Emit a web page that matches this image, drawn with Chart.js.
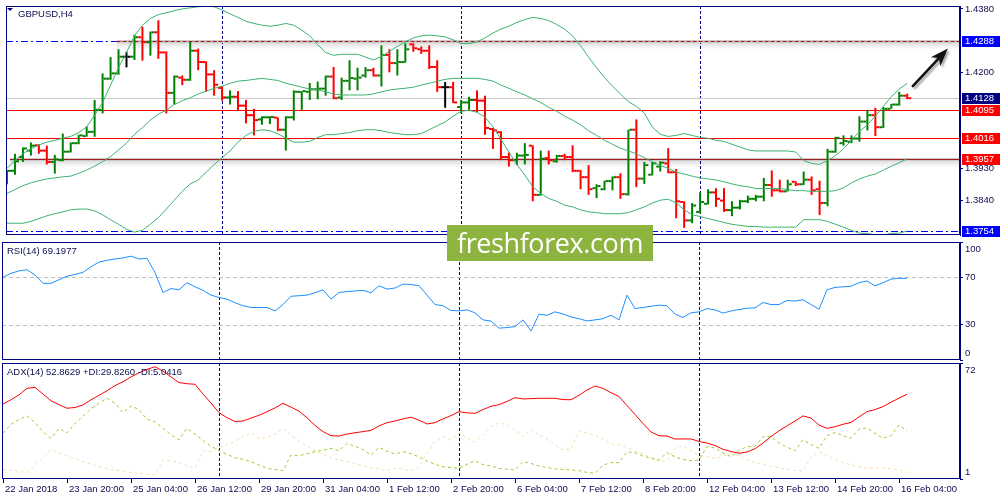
<!DOCTYPE html>
<html>
<head>
<meta charset="utf-8">
<title>GBPUSD,H4</title>
<script src="https://cdn.jsdelivr.net/npm/chart.js@4.4.1/dist/chart.umd.min.js"></script>
<style>
  html, body { margin: 0; padding: 0; background: #fff; }
  #wrap { position: relative; width: 1000px; height: 500px; overflow: hidden; background: #fff; }
  #wrap canvas { position: absolute; left: 0; }
  #brand { position: absolute; left: 447px; top: 225px; width: 206px; height: 36px; background: #8db43f;
           color: #fff; font: 27px "Open Sans", sans-serif; letter-spacing: -0.4px; text-align: center; line-height: 36px; }
</style>
</head>
<body>
<div id="wrap">
  <canvas id="main" width="1000" height="241" style="top:0"></canvas>
  <canvas id="rsi" width="1000" height="122" style="top:240px"></canvas>
  <canvas id="adx" width="1000" height="139" style="top:361px"></canvas>
  <div id="brand">freshforex.com</div>
</div>
<script>
// H4 bars, index 0 = 22 Jan 2018 12:00
const opens = [1.3894,1.3923,1.3962,1.3980,1.3995,1.3980,1.3948,1.3953,1.3977,1.4001,
  1.4021,1.4033,1.4095,1.4183,1.4198,1.4245,1.4245,1.4300,1.4286,1.4314,
  1.4257,1.4143,1.4186,1.4180,1.4262,1.4230,1.4195,1.4157,1.4130,1.4132,
  1.4107,1.4080,1.4068,1.4074,1.4073,1.4039,1.4074,1.4146,1.4146,1.4153,
  1.4155,1.4189,1.4130,1.4177,1.4183,1.4192,1.4207,1.4192,1.4250,1.4227,
  1.4230,1.4280,1.4266,1.4262,1.4216,1.4159,1.4159,1.4103,1.4116,1.4123,
  1.4121,1.4041,1.4032,1.3962,1.3953,1.3966,1.3994,1.3855,1.3959,1.3950,
  1.3965,1.3962,1.3923,1.3905,1.3874,1.3871,1.3894,1.3905,1.3857,1.4039,
  1.3901,1.3912,1.3935,1.3944,1.3919,1.3835,1.3783,1.3807,1.3830,1.3862,
  1.3839,1.3812,1.3819,1.3837,1.3844,1.3850,1.3883,1.3868,1.3865,1.3892,
  1.3885,1.3898,1.3871,1.3832,1.3977,1.4001,1.4005,1.4014,1.4062,1.4080,
  1.4046,1.4098,1.4110,1.4135];
const highs = [1.3925,1.3971,1.3989,1.4003,1.3998,1.3994,1.3968,1.4028,1.4003,1.4025,
  1.4048,1.4123,1.4198,1.4244,1.4266,1.4259,1.4307,1.4330,1.4316,1.4348,
  1.4260,1.4192,1.4192,1.4287,1.4268,1.4232,1.4207,1.4162,1.4150,1.4148,
  1.4123,1.4098,1.4077,1.4077,1.4074,1.4077,1.4150,1.4148,1.4171,1.4175,
  1.4192,1.4216,1.4186,1.4235,1.4214,1.4216,1.4214,1.4277,1.4266,1.4266,
  1.4283,1.4283,1.4274,1.4277,1.4235,1.4174,1.4174,1.4123,1.4132,1.4150,
  1.4135,1.4044,1.4035,1.3975,1.3974,1.4001,1.3995,1.3980,1.3980,1.3968,
  1.3971,1.3995,1.3925,1.3939,1.3885,1.3895,1.3907,1.3916,1.4039,1.4068,
  1.3948,1.3948,1.3950,1.3987,1.3928,1.3837,1.3832,1.3862,1.3871,1.3874,
  1.3874,1.3837,1.3841,1.3853,1.3855,1.3903,1.3924,1.3898,1.3898,1.3894,
  1.3921,1.3907,1.3895,1.3985,1.4019,1.4023,1.4023,1.4077,1.4095,1.4101,
  1.4103,1.4112,1.4146,1.4141];
const lows = [1.3885,1.3912,1.3948,1.3966,1.3971,1.3941,1.3915,1.3950,1.3975,1.3998,
  1.4019,1.4019,1.4085,1.4180,1.4194,1.4215,1.4236,1.4234,1.4248,1.4239,
  1.4085,1.4110,1.4165,1.4177,1.4207,1.4146,1.4135,1.4121,1.4110,1.4094,
  1.4057,1.4023,1.4053,1.4055,1.4035,1.3980,1.4065,1.4095,1.4123,1.4125,
  1.4135,1.4125,1.4123,1.4150,1.4150,1.4186,1.4189,1.4161,1.4201,1.4192,
  1.4228,1.4259,1.4253,1.4210,1.4146,1.4101,1.4114,1.4085,1.4095,1.4089,
  1.4025,1.3985,1.3953,1.3935,1.3939,1.3941,1.3837,1.3853,1.3941,1.3946,
  1.3953,1.3919,1.3871,1.3855,1.3846,1.3868,1.3868,1.3844,1.3853,1.3877,
  1.3886,1.3910,1.3921,1.3916,1.3789,1.3762,1.3775,1.3803,1.3828,1.3821,
  1.3807,1.3795,1.3814,1.3832,1.3837,1.3837,1.3850,1.3862,1.3865,1.3880,
  1.3883,1.3855,1.3798,1.3823,1.3974,1.3994,1.4001,1.4005,1.4037,1.4021,
  1.4044,1.4098,1.4107,1.4125];
const closes = [1.3923,1.3950,1.3986,1.3994,1.3980,1.3948,1.3955,1.3977,1.4001,1.4023,
  1.4033,1.4095,1.4183,1.4198,1.4245,1.4245,1.4300,1.4286,1.4314,1.4257,
  1.4143,1.4189,1.4180,1.4262,1.4230,1.4195,1.4166,1.4130,1.4132,1.4107,
  1.4080,1.4066,1.4074,1.4075,1.4039,1.4074,1.4146,1.4148,1.4153,1.4155,
  1.4189,1.4128,1.4177,1.4185,1.4186,1.4207,1.4192,1.4250,1.4227,1.4230,
  1.4266,1.4269,1.4262,1.4216,1.4159,1.4159,1.4116,1.4116,1.4123,1.4121,
  1.4044,1.4037,1.3962,1.3953,1.3966,1.3968,1.3855,1.3957,1.3953,1.3965,
  1.3962,1.3923,1.3905,1.3871,1.3880,1.3894,1.3905,1.3857,1.4039,1.3901,
  1.3939,1.3944,1.3946,1.3919,1.3837,1.3783,1.3825,1.3835,1.3862,1.3844,
  1.3812,1.3819,1.3837,1.3844,1.3850,1.3883,1.3868,1.3865,1.3885,1.3885,
  1.3898,1.3868,1.3832,1.3977,1.4016,1.4007,1.4014,1.4062,1.4080,1.4046,
  1.4098,1.4110,1.4135,1.4128];

// Bollinger bands
const bbUpper = [1.3930,1.3952,1.3971,1.3985,1.3996,1.4004,1.4009,1.4015,1.4020,1.4031,
  1.4047,1.4080,1.4116,1.4165,1.4214,1.4257,1.4304,1.4334,1.4353,1.4364,
  1.4369,1.4375,1.4380,1.4383,1.4386,1.4388,1.4386,1.4377,1.4366,1.4356,
  1.4345,1.4339,1.4334,1.4331,1.4334,1.4339,1.4334,1.4320,1.4304,1.4279,
  1.4257,1.4249,1.4252,1.4252,1.4252,1.4244,1.4236,1.4246,1.4260,1.4274,
  1.4287,1.4298,1.4304,1.4306,1.4304,1.4301,1.4293,1.4282,1.4282,1.4287,
  1.4298,1.4312,1.4323,1.4331,1.4342,1.4350,1.4356,1.4353,1.4347,1.4336,
  1.4323,1.4304,1.4276,1.4244,1.4214,1.4186,1.4162,1.4140,1.4118,1.4105,
  1.4086,1.4047,1.4026,1.4020,1.4023,1.4028,1.4023,1.4017,1.4015,1.4009,
  1.4006,1.3998,1.3990,1.3982,1.3979,1.3979,1.3979,1.3979,1.3979,1.3976,
  1.3952,1.3944,1.3941,1.3952,1.3966,1.3985,1.4009,1.4034,1.4053,1.4077,
  1.4105,1.4132,1.4154,1.4170];
const bbMiddle = [1.3859,1.3870,1.3881,1.3889,1.3895,1.3900,1.3903,1.3906,1.3908,1.3916,
  1.3925,1.3936,1.3949,1.3963,1.3982,1.4001,1.4026,1.4045,1.4066,1.4083,
  1.4094,1.4110,1.4121,1.4129,1.4140,1.4148,1.4156,1.4162,1.4170,1.4176,
  1.4178,1.4181,1.4184,1.4181,1.4178,1.4170,1.4165,1.4159,1.4154,1.4151,
  1.4146,1.4140,1.4137,1.4137,1.4137,1.4137,1.4140,1.4146,1.4151,1.4154,
  1.4156,1.4159,1.4165,1.4170,1.4176,1.4181,1.4184,1.4184,1.4184,1.4184,
  1.4181,1.4176,1.4165,1.4156,1.4146,1.4137,1.4126,1.4116,1.4102,1.4091,
  1.4077,1.4066,1.4053,1.4036,1.4023,1.4009,1.3998,1.3987,1.3979,1.3971,
  1.3960,1.3949,1.3938,1.3930,1.3919,1.3914,1.3908,1.3903,1.3900,1.3897,
  1.3892,1.3886,1.3881,1.3878,1.3873,1.3873,1.3873,1.3873,1.3870,1.3867,
  1.3867,1.3865,1.3865,1.3865,1.3867,1.3875,1.3889,1.3900,1.3908,1.3914,
  1.3925,1.3936,1.3946,1.3957];
const bbLower = [1.3775,1.3775,1.3775,1.3780,1.3788,1.3796,1.3802,1.3807,1.3813,1.3815,
  1.3815,1.3810,1.3799,1.3785,1.3772,1.3758,1.3750,1.3755,1.3772,1.3791,
  1.3815,1.3840,1.3865,1.3886,1.3897,1.3919,1.3941,1.3960,1.3979,1.4004,
  1.4023,1.4034,1.4039,1.4036,1.4028,1.4015,1.4004,1.4004,1.4006,1.4017,
  1.4025,1.4025,1.4028,1.4031,1.4036,1.4039,1.4039,1.4036,1.4031,1.4028,
  1.4025,1.4025,1.4028,1.4039,1.4050,1.4061,1.4077,1.4091,1.4094,1.4088,
  1.4075,1.4047,1.4012,1.3976,1.3941,1.3911,1.3878,1.3859,1.3845,1.3837,
  1.3826,1.3821,1.3813,1.3807,1.3805,1.3802,1.3802,1.3802,1.3805,1.3813,
  1.3821,1.3832,1.3840,1.3843,1.3832,1.3813,1.3799,1.3794,1.3788,1.3783,
  1.3777,1.3772,1.3769,1.3766,1.3766,1.3764,1.3764,1.3764,1.3764,1.3764,
  1.3785,1.3785,1.3785,1.3780,1.3772,1.3764,1.3755,1.3747,1.3746,1.3742,
  1.3742,1.3746,1.3747,1.3753];

const rsi = [70,73.5,75.5,76.5,72,65,65,68,71,72.5,
  74.3,79,83,84.5,85.6,86.5,88,85.6,86.2,74,
  57.2,60.5,59.5,65.5,62,59,55,53,51.6,48.5,
  46,44.5,44.5,44.5,41.6,47,54,54.5,55,57,
  59.5,51.6,57.2,58,58.5,59,57,62.9,60.1,61,
  64.3,64,63,55,47,46,42,41.6,42.5,40,
  34,33,27,27.5,28.3,34,24.6,38.8,37.9,40.8,
  39,36.5,35,33.1,34,35,37.9,34,55,43.6,
  44.5,45.5,46.5,45.9,39,36,40,40.8,43.5,42.5,
  39.8,41.5,42.8,43.9,44.2,48.7,47,47,50.4,50,
  51,47,43,59.5,61.5,62,62.5,65.5,67,62.8,
  65.5,68.5,69.3,69.2];
const adx = [46.9,49.5,52.5,56.5,57.1,53,48.9,46.5,44.3,44.8,
  46.3,49.5,52.2,55,58.2,60.5,63.5,66,68.1,69.7,
  67,63.5,60,59.3,59,53,47.5,41.6,38.5,36.2,
  36.5,38.3,40,42.2,44.5,47.3,45,42.5,38.5,33.8,
  30,27.5,27.3,28.5,29.3,30,30.8,33.5,35.5,36.5,
  37.8,38.8,37,34.7,35.5,37.8,39.8,42.2,41.5,41.2,
  43.5,45.5,46.5,48.5,50.8,50,50.2,50.4,50.4,50.4,
  49.6,49.5,52.2,55.5,57.9,56.5,53.8,51.5,46,40.5,
  35,29.8,27.5,27.3,25.5,25.5,25.5,24,23,21.5,
  19.2,17.8,16.8,17.5,19.5,23,27,30.5,33.5,36.5,
  39.6,38.3,34,32,33,34.5,35.6,39,42.2,43.5,
  45.3,48,50.5,52.9];
const plusDI = [29,34.5,37.5,39.6,35.5,30,25.9,32,29.3,35,
  39.5,44,47.5,50.4,47.3,41.6,45.7,43.5,37.5,36,
  32,28,25,32,28.5,24.5,21,18.5,16,14,
  13,11.6,9.5,7.5,6.8,6.1,15.7,15.1,16.5,17.8,
  18.5,19.8,18.3,22.8,21,19,15.7,20.4,18,16.3,
  17.7,16.5,14.5,12,10,8.5,8,7.5,10,12.2,
  9.8,9,7.5,7,6.5,11.6,10.5,9,8,7.2,
  6.8,6.5,6.1,5,4.5,9.5,11,11,17.7,17.1,
  15,13.7,12.6,17.1,14.5,13,12.2,12.6,20.8,20,
  17,14.6,18.5,20.8,21,26.9,26.9,23,20.5,18.3,
  24.9,22,19.8,27.5,29.5,27.5,25.9,31.5,32.3,29,
  25.9,27.5,34,30.4];
const minusDI = [6.9,6.4,5.8,4.9,9.5,14,18.8,17,15.1,13.3,
  11.6,10,8.6,7.5,6.4,5.8,5,4.5,3.9,3.4,
  12.6,12,11.2,9,7.6,18.3,17.8,20,22,24,
  27,29.3,25.5,26.5,28.5,32,28,24,21,18.5,
  16,14,12.5,11.8,10.5,9,8,7,6.1,7.5,
  7,6.1,8.5,17,24,27,25,29.3,26,23.5,
  28,33,35.2,34.5,31,26.9,31.4,28,25.3,22,
  18.8,19.5,30.6,29,27.8,25.5,22.4,22,20.5,18,
  16.5,14,11.8,12.2,19.8,21.2,18.5,15.7,14.8,13.7,
  15,16.7,15,12.8,11.2,10,8.7,7.8,7,6.3,
  5.9,14.6,17.7,15.5,13,11,9.6,8.5,7.5,7.7,
  7.9,7.2,6.5,5.1];

const xTickIndex = [0,8,16,24,32,40,48,56,64,72,80,88,96,104,112];
const xTickLabels = ['22 Jan 2018','23 Jan 20:00','25 Jan 04:00','26 Jan 12:00','29 Jan 20:00',
  '31 Jan 04:00','1 Feb 12:00','2 Feb 20:00','6 Feb 04:00','7 Feb 12:00','8 Feb 20:00',
  '12 Feb 04:00','13 Feb 12:00','14 Feb 20:00','16 Feb 04:00'];
const weekStarts = [27, 57, 87];
const priceTicks = [1.4380, 1.4200, 1.3930, 1.3840];
const levelPrices = [1.4288, 1.4128, 1.4095, 1.4016, 1.3957, 1.3754];
const levelFrom = [13.75, 0, 0, 0, 0.375, 0];
const rsiLevels = [70, 30];
const arrowX = [113.7, 118.1];
const arrowY = [1.4162, 1.4268];

const FONT = 'Liberation Sans';
const FSIZE = 9.5;
const NAVY = '#000080';
const TXT = '#0c0c50';
const GREEN = '#008000', RED = '#ff0000';
const X_MIN = -0.125, X_MAX = 119.625;

const barColor = opens.map((o, i) => closes[i] > o ? GREEN : (closes[i] < o ? RED : '#000000'));
const pts = (arr, dx) => arr.map((v, i) => ({x: i + (dx || 0), y: v}));

function xAxis(extra) {
  return Object.assign({type: 'linear', min: X_MIN, max: X_MAX, bounds: 'data', offset: false,
    display: false, grid: {offset: false}}, extra || {});
}
function yAxis(min, max, values, fmt, showLabels) {
  return {
    position: 'right', min: min, max: max, bounds: 'data',
    afterFit: s => { s.width = 40; s.paddingTop = 0; s.paddingBottom = 0; },
    afterBuildTicks: s => { s.ticks = values.map(v => ({value: v})); },
    grid: {drawOnChartArea: false, drawTicks: true, tickLength: 3, color: NAVY},
    border: {display: true, color: NAVY},
    ticks: {display: showLabels, padding: 2, color: TXT, font: {family: FONT, size: FSIZE}, callback: fmt}
  };
}
const baseOptions = {
  responsive: false, animation: false, events: [],
  plugins: {legend: {display: false}, tooltip: {enabled: false}}
};

function frame(chart) {
  const {ctx, chartArea: a} = chart;
  ctx.save();
  ctx.strokeStyle = NAVY; ctx.lineWidth = 1;
  ctx.strokeRect(a.left + 0.5, a.top + 0.5, a.right - a.left - 1, a.bottom - a.top - 1);
  ctx.restore();
}
function separators(chart) {
  const {ctx, chartArea: a} = chart;
  const xs = chart.scales.x;
  ctx.save();
  ctx.strokeStyle = NAVY; ctx.lineWidth = 1; ctx.setLineDash([3, 2]);
  weekStarts.forEach(i => {
    const px = Math.round(xs.getPixelForValue(i)) + 0.5;
    ctx.beginPath(); ctx.moveTo(px, a.top); ctx.lineTo(px, a.bottom); ctx.stroke();
  });
  ctx.restore();
}
function label(ctx, text, x, y, color) {
  ctx.save();
  ctx.fillStyle = color || TXT;
  ctx.font = FSIZE + 'px "' + FONT + '"';
  ctx.textBaseline = 'middle';
  ctx.fillText(text, x, y);
  ctx.restore();
}

// ---- main price window
const levelStyle = [
  {dash: '#0000ff', band: true, box: '#0000ff'},
  {line: '#c8c8c8', box: '#000080'},
  {line: '#ff0000', box: '#ff0000'},
  {line: '#ff0000', box: '#ff0000'},
  {band: true, box: '#ff0000'},
  {dash: '#0000ff', box: '#0000ff'}
];

const mainDeco = {
  id: 'mainDeco',
  beforeDatasetsDraw(chart) {
    const {ctx, chartArea: a} = chart;
    const xs = chart.scales.x, ys = chart.scales.y;
    separators(chart);
    ctx.save();
    levelPrices.forEach((v, k) => {
      const st = levelStyle[k];
      const y = Math.round(ys.getPixelForValue(v)) + 0.5;
      const x0 = Math.max(a.left, xs.getPixelForValue(levelFrom[k]));
      if (st.line) {
        ctx.strokeStyle = st.line; ctx.lineWidth = 1; ctx.setLineDash([]);
        ctx.beginPath(); ctx.moveTo(a.left, y); ctx.lineTo(a.right, y); ctx.stroke();
      }
      if (st.dash) {
        ctx.strokeStyle = st.dash; ctx.lineWidth = 1; ctx.setLineDash([7, 3, 2, 3]);
        ctx.beginPath(); ctx.moveTo(a.left, y); ctx.lineTo(a.right, y); ctx.stroke();
      }
      if (st.band) {
        const g = ctx.createLinearGradient(0, y + 1.5, 0, y + 8);
        g.addColorStop(0, 'rgba(0,0,0,0.12)'); g.addColorStop(1, 'rgba(0,0,0,0)');
        ctx.fillStyle = g; ctx.fillRect(x0, y + 1.5, a.right - x0, 6.5);
        ctx.fillStyle = '#cfc8c8'; ctx.fillRect(x0, y - 1.5, a.right - x0, 3);
        ctx.strokeStyle = '#a01e1e'; ctx.lineWidth = 1;
        ctx.setLineDash(k === 0 ? [4, 2] : []);
        ctx.beginPath(); ctx.moveTo(x0, y); ctx.lineTo(a.right, y); ctx.stroke();
      }
    });
    ctx.restore();
  },
  afterDatasetsDraw(chart) {
    const {ctx} = chart;
    const xs = chart.scales.x, ys = chart.scales.y;
    const x0 = xs.getPixelForValue(arrowX[0]), y0 = ys.getPixelForValue(arrowY[0]);
    const x1 = xs.getPixelForValue(arrowX[1]), y1 = ys.getPixelForValue(arrowY[1]);
    const ang = Math.atan2(y1 - y0, x1 - x0);
    const hl = 18, hw = 6.5;
    const bx = x1 - Math.cos(ang) * hl, by = y1 - Math.sin(ang) * hl;
    ctx.save();
    ctx.shadowColor = 'rgba(0,0,0,0.35)'; ctx.shadowOffsetX = 2; ctx.shadowOffsetY = 2; ctx.shadowBlur = 2;
    ctx.strokeStyle = '#111'; ctx.lineWidth = 2.6; ctx.lineCap = 'round';
    ctx.beginPath(); ctx.moveTo(x0, y0); ctx.lineTo(bx + Math.cos(ang) * 4, by + Math.sin(ang) * 4); ctx.stroke();
    ctx.fillStyle = '#111';
    ctx.beginPath();
    ctx.moveTo(x1, y1);
    ctx.lineTo(bx - Math.sin(ang) * hw, by + Math.cos(ang) * hw);
    ctx.lineTo(bx + Math.cos(ang) * 5, by + Math.sin(ang) * 5);
    ctx.lineTo(bx + Math.sin(ang) * hw, by - Math.cos(ang) * hw);
    ctx.closePath(); ctx.fill();
    ctx.restore();
  },
  afterDraw(chart) {
    const {ctx, chartArea: a} = chart;
    const ys = chart.scales.y;
    frame(chart);
    levelPrices.forEach((v, k) => {
      const y = Math.round(ys.getPixelForValue(v));
      ctx.fillStyle = levelStyle[k].box;
      ctx.fillRect(a.right + 2, y - 5, chart.width - a.right - 2, 11);
      label(ctx, v.toFixed(4), a.right + 5, y + 0.5, '#ffffff');
    });
    ctx.save();
    ctx.fillStyle = NAVY;
    ctx.beginPath(); ctx.moveTo(7, 8); ctx.lineTo(13, 8); ctx.lineTo(10, 11); ctx.closePath(); ctx.fill();
    ctx.restore();
    label(ctx, 'GBPUSD,H4', 18, a.top + 8);
  }
};

new Chart(document.getElementById('main'), {
  type: 'line',
  data: {
    datasets: [
      {data: pts(bbUpper), borderColor: '#3cb371', borderWidth: 1, pointRadius: 0},
      {data: pts(bbMiddle), borderColor: '#3cb371', borderWidth: 1, pointRadius: 0},
      {data: pts(bbLower), borderColor: '#3cb371', borderWidth: 1, pointRadius: 0},
      {type: 'bar', data: highs.map((h, i) => ({x: i, y: [lows[i], h]})), backgroundColor: barColor,
       barThickness: 2, borderWidth: 0, inflateAmount: 0},
      {type: 'scatter', data: pts(opens, -0.3125), pointStyle: 'line', pointRadius: 1.5,
       pointBorderWidth: 2, pointBorderColor: barColor},
      {type: 'scatter', data: pts(closes, 0.3125), pointStyle: 'line', pointRadius: 1.5,
       pointBorderWidth: 2, pointBorderColor: barColor}
    ]
  },
  options: Object.assign({}, baseOptions, {
    layout: {padding: {left: 2, top: 2, right: 0, bottom: 2}},
    scales: {
      x: xAxis(),
      y: yAxis(1.37418, 1.43882, priceTicks, v => v.toFixed(4), true)
    }
  }),
  plugins: [mainDeco]
});

// ---- RSI window
new Chart(document.getElementById('rsi'), {
  type: 'line',
  data: {datasets: [{data: pts(rsi), borderColor: '#1e90ff', borderWidth: 1, pointRadius: 0}]},
  options: Object.assign({}, baseOptions, {
    layout: {padding: {left: 2, top: 2, right: 0, bottom: 2}},
    scales: {
      x: xAxis(),
      y: yAxis(0, 100, [0, 30, 70, 100], v => (v === 30 || v === 70) ? String(v) : '', true)
    }
  }),
  plugins: [{
    id: 'rsiDeco',
    beforeDatasetsDraw(chart) {
      const {ctx, chartArea: a} = chart;
      const ys = chart.scales.y;
      separators(chart);
      ctx.save();
      ctx.strokeStyle = '#c0c0c0'; ctx.lineWidth = 1; ctx.setLineDash([4, 3]);
      rsiLevels.forEach(v => {
        const y = Math.round(ys.getPixelForValue(v)) + 0.5;
        ctx.beginPath(); ctx.moveTo(a.left, y); ctx.lineTo(a.right, y); ctx.stroke();
      });
      ctx.restore();
    },
    afterDraw(chart) {
      const {ctx, chartArea: a} = chart;
      frame(chart);
      label(ctx, '100', a.right + 5, a.top + 7);
      label(ctx, '0', a.right + 5, a.bottom - 7);
      label(ctx, 'RSI(14) 69.1977', 7, a.top + 9);
    }
  }]
});

// ---- ADX window
new Chart(document.getElementById('adx'), {
  type: 'line',
  data: {
    datasets: [
      {data: pts(adx), borderColor: '#ff0000', borderWidth: 1, pointRadius: 0},
      {data: pts(plusDI), borderColor: '#9acd32', borderWidth: 1, borderDash: [3, 3], pointRadius: 0},
      {data: pts(minusDI), borderColor: '#f5deb3', borderWidth: 1, borderDash: [3, 3], pointRadius: 0}
    ]
  },
  options: Object.assign({}, baseOptions, {
    layout: {padding: {left: 2, top: 2, right: 0, bottom: 0}},
    scales: {
      x: xAxis({
        display: true,
        afterBuildTicks: s => { s.ticks = xTickIndex.map(v => ({value: v})); },
        afterFit: s => { s.height = 21; s.paddingLeft = 0; s.paddingRight = 0; },
        grid: {offset: false, drawOnChartArea: false, drawTicks: true, tickLength: 4, color: NAVY},
        border: {display: false},
        ticks: {autoSkip: false, maxRotation: 0, minRotation: 0, align: 'start', labelOffset: 2,
                padding: 1, color: TXT, font: {family: FONT, size: FSIZE},
                callback: (v, i) => xTickLabels[i]}
      }),
      y: yAxis(1, 72, [1, 72], () => '', false)
    }
  }),
  plugins: [{
    id: 'adxDeco',
    beforeDatasetsDraw(chart) { separators(chart); },
    afterDraw(chart) {
      const {ctx, chartArea: a} = chart;
      frame(chart);
      label(ctx, '72', a.right + 5, a.top + 7);
      label(ctx, '1', a.right + 5, a.bottom - 7);
      label(ctx, 'ADX(14) 52.8629 +DI:29.8260 -DI:5.0416', 7, a.top + 9);
    }
  }]
});
</script>
</body>
</html>
